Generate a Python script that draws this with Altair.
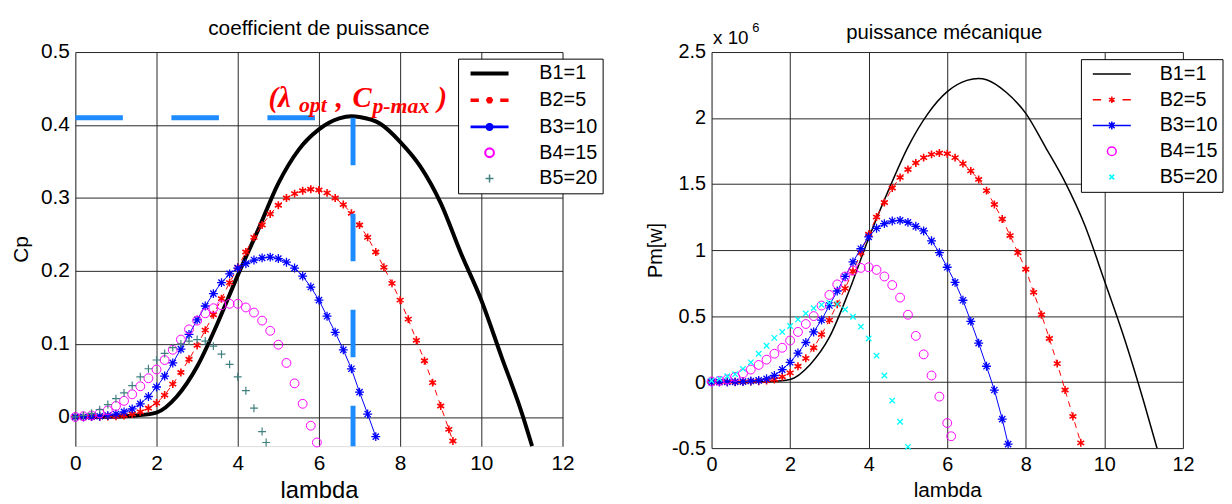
import altair as alt
import pandas as pd

FONT = "Liberation Sans"
SERIES = ["B1=1", "B2=5", "B3=10", "B4=15", "B5=20"]

# ---------------- left panel: coefficient de puissance (Cp) ----------------
cp1_lam = [0, 0.5, 1, 1.5, 2, 2.5, 3, 3.5, 4, 4.5, 5, 5.5, 6, 6.5, 6.8, 7, 7.5, 8, 8.5, 9, 9.5, 10, 10.5, 11, 11.25]
cp1_val = [0, 0, 0.0005, 0.002, 0.006, 0.028, 0.069, 0.128, 0.194, 0.256, 0.320, 0.366, 0.394, 0.409, 0.412,
           0.411, 0.402, 0.377, 0.343, 0.293, 0.224, 0.160, 0.082, 0.005, -0.04]

cp2_lam = [0, 0.2, 0.4, 0.6, 0.8, 1, 1.2, 1.4, 1.6, 1.8, 2, 2.2, 2.4, 2.6, 2.8, 3, 3.2, 3.4, 3.6, 3.8, 4, 4.2,
           4.4, 4.6, 4.8, 5, 5.2, 5.4, 5.6, 5.8, 6, 6.2, 6.4, 6.6, 6.8, 7, 7.2, 7.4, 7.6, 7.8, 8, 8.2, 8.4, 8.6,
           8.8, 9, 9.2, 9.3]
cp2_val = [0, 0, 0, 0.0002, 0.0005, 0.001, 0.002, 0.004, 0.007, 0.012, 0.019, 0.030, 0.045, 0.061, 0.079,
           0.098, 0.119, 0.140, 0.162, 0.184, 0.205, 0.226, 0.246, 0.263, 0.278, 0.290, 0.300, 0.306, 0.310,
           0.312, 0.311, 0.307, 0.300, 0.291, 0.279, 0.263, 0.246, 0.226, 0.205, 0.183, 0.160, 0.134, 0.105,
           0.077, 0.047, 0.015, -0.017, -0.033]

cp3_lam = [0, 0.2, 0.4, 0.6, 0.8, 1, 1.2, 1.4, 1.6, 1.8, 2, 2.2, 2.4, 2.6, 2.8, 3, 3.2, 3.4, 3.6, 3.8, 4, 4.2,
           4.4, 4.6, 4.8, 5, 5.2, 5.4, 5.6, 5.8, 6, 6.2, 6.4, 6.6, 6.8, 7, 7.2, 7.4]
cp3_val = [0, 0, 0.0005, 0.001, 0.002, 0.004, 0.007, 0.011, 0.018, 0.028, 0.041, 0.056, 0.074, 0.093, 0.113,
           0.133, 0.152, 0.169, 0.184, 0.196, 0.204, 0.210, 0.215, 0.218, 0.219, 0.217, 0.212, 0.204, 0.193,
           0.178, 0.160, 0.138, 0.116, 0.092, 0.066, 0.034, 0.004, -0.027]

cp4_lam = [0, 0.2, 0.4, 0.6, 0.8, 1, 1.2, 1.4, 1.6, 1.8, 2, 2.2, 2.4, 2.6, 2.8, 3, 3.2, 3.4, 3.6, 3.8, 4, 4.2,
           4.4, 4.6, 4.8, 5, 5.2, 5.4, 5.6, 5.8, 5.95]
cp4_val = [0, 0.001, 0.002, 0.005, 0.009, 0.015, 0.022, 0.031, 0.042, 0.053, 0.065, 0.078, 0.092, 0.106, 0.120,
           0.132, 0.142, 0.149, 0.153, 0.155, 0.155, 0.150, 0.143, 0.132, 0.118, 0.099, 0.074, 0.046, 0.018,
           -0.012, -0.035]

cp5_lam = [0, 0.2, 0.4, 0.6, 0.8, 1, 1.2, 1.4, 1.6, 1.8, 2, 2.2, 2.4, 2.6, 2.8, 3, 3.2, 3.4, 3.6, 3.8, 4, 4.2,
           4.4, 4.6, 4.7]
cp5_val = [0, 0.002, 0.005, 0.010, 0.017, 0.025, 0.033, 0.043, 0.055, 0.066, 0.078, 0.087, 0.095, 0.100, 0.104,
           0.106, 0.104, 0.097, 0.086, 0.072, 0.055, 0.036, 0.012, -0.020, -0.035]

LAMBDA_OPT = 6.84
CP_MAX = 0.41

# ---------------- right panel: puissance mecanique (Pm, x 10^6 W) ----------------
pm1_lam = [0, 0.5, 1, 1.5, 2, 2.5, 3, 3.5, 4, 4.5, 5, 5.5, 6, 6.5, 6.8, 7, 7.5, 8, 8.5, 9, 9.5, 10, 10.5, 11, 11.34]
pm1_val = [0, 0, 0.002, 0.005, 0.02, 0.13, 0.34, 0.69, 1.09, 1.45, 1.78, 2.03, 2.20, 2.285, 2.30, 2.29, 2.195,
           2.035, 1.78, 1.515, 1.19, 0.77, 0.34, -0.145, -0.5]

pm2_lam = [0, 0.2, 0.4, 0.6, 0.8, 1, 1.2, 1.4, 1.6, 1.8, 2, 2.2, 2.4, 2.6, 2.8, 3, 3.2, 3.4, 3.6, 3.8, 4, 4.2,
           4.4, 4.6, 4.8, 5, 5.2, 5.4, 5.6, 5.8, 6, 6.2, 6.4, 6.6, 6.8, 7, 7.2, 7.4, 7.6, 7.8, 8, 8.2, 8.4, 8.6,
           8.8, 9, 9.2, 9.4]
pm2_val = [0, 0, 0, 0.001, 0.002, 0.004, 0.007, 0.012, 0.02, 0.04, 0.07, 0.12, 0.18, 0.26, 0.36, 0.47, 0.59,
           0.71, 0.84, 0.98, 1.12, 1.25, 1.36, 1.47, 1.55, 1.61, 1.66, 1.70, 1.725, 1.735, 1.73, 1.70, 1.655,
           1.60, 1.535, 1.45, 1.345, 1.235, 1.11, 0.98, 0.855, 0.68, 0.51, 0.33, 0.14, -0.06, -0.26, -0.46]

pm3_lam = [0, 0.2, 0.4, 0.6, 0.8, 1, 1.2, 1.4, 1.6, 1.8, 2, 2.2, 2.4, 2.6, 2.8, 3, 3.2, 3.4, 3.6, 3.8, 4, 4.2,
           4.4, 4.6, 4.8, 5, 5.2, 5.4, 5.6, 5.8, 6, 6.2, 6.4, 6.6, 6.8, 7, 7.2, 7.4, 7.55]
pm3_val = [0, 0, 0.001, 0.002, 0.004, 0.008, 0.013, 0.025, 0.05, 0.095, 0.15, 0.22, 0.30, 0.38, 0.47, 0.58,
           0.69, 0.80, 0.91, 1.01, 1.10, 1.165, 1.20, 1.22, 1.225, 1.21, 1.18, 1.145, 1.07, 0.98, 0.87, 0.755,
           0.62, 0.46, 0.295, 0.12, -0.06, -0.28, -0.47]

pm4_lam = [0, 0.2, 0.4, 0.6, 0.8, 1, 1.2, 1.4, 1.6, 1.8, 2, 2.2, 2.4, 2.6, 2.8, 3, 3.2, 3.4, 3.6, 3.8, 4, 4.2,
           4.4, 4.6, 4.8, 5, 5.2, 5.4, 5.6, 5.8, 6, 6.1]
pm4_val = [0.005, 0.01, 0.02, 0.04, 0.065, 0.095, 0.13, 0.17, 0.215, 0.26, 0.315, 0.38, 0.44, 0.50, 0.58, 0.66,
           0.74, 0.80, 0.845, 0.865, 0.87, 0.85, 0.80, 0.735, 0.64, 0.51, 0.35, 0.21, 0.05, -0.11, -0.31, -0.41]

pm5_lam = [0, 0.2, 0.4, 0.6, 0.8, 1, 1.2, 1.4, 1.6, 1.8, 2, 2.2, 2.4, 2.6, 2.8, 3, 3.2, 3.4, 3.6, 3.8, 4, 4.2,
           4.4, 4.6, 4.8, 5]
pm5_val = [0.01, 0.025, 0.045, 0.06, 0.10, 0.15, 0.215, 0.275, 0.335, 0.38, 0.425, 0.475, 0.52, 0.56, 0.585,
           0.60, 0.59, 0.55, 0.495, 0.42, 0.33, 0.20, 0.05, -0.14, -0.30, -0.49]


def frame(lams, vals, name):
    if len(lams) != len(vals):
        raise ValueError(f"length mismatch for {name}: {len(lams)} vs {len(vals)}")
    return pd.DataFrame({"lam": lams, "val": vals, "series": name})


# marker / legend symbol paths (unit coordinates)
AST6 = "M-0.87,-0.5L0.87,0.5M-0.87,0.5L0.87,-0.5M0,-1V1"
AST8 = "M-1,0H1M0,-1V1M-0.7,-0.7L0.7,0.7M-0.7,0.7L0.7,-0.7"
PLUS = "M-1,0H1M0,-1V1"
XMARK = "M-1,-1L1,1M-1,1L1,-1"

LG_B1 = "M-2.4,0H2.4"
LG_B2 = "M-2.4,0H-1.35M1.35,0H2.4M-0.36,-0.2L0.36,0.2M-0.36,0.2L0.36,-0.2M0,-0.42V0.42"
LG_B3 = "M-2.4,0H2.4M-0.36,-0.36L0.36,0.36M-0.36,0.36L0.36,-0.36M0,-0.5V0.5"
LG_B4 = "M0.55,0A0.55,0.55,0,1,1,-0.55,0A0.55,0.55,0,1,1,0.55,0Z"
LG_B5L = "M-0.5,0H0.5M0,-0.5V0.5"
LG_B5R = "M-0.3,-0.3L0.3,0.3M-0.3,0.3L0.3,-0.3"

RED, BLUE, MAG, TEAL, CYAN = "#ff0000", "#0000ff", "#ff00ff", "#408080", "#00ffff"
DASHBLUE = "#1e8cff"

W_L, H_L = 492, 398
W_R, H_R = 476, 400


def axis(values, title, label_size, title_size, label_pad, title_pad, label_expr=None):
    kw = dict(values=values, title=title, format="~g", grid=True, ticks=False, domain=False,
              labelFlush=False, labelOverlap=False, labelFont=FONT, labelFontSize=label_size,
              labelColor="black", labelPadding=label_pad, titleFont=FONT, titleFontSize=title_size,
              titleFontWeight="normal", titleColor="black", titlePadding=title_pad,
              gridColor="#262626", gridWidth=1)
    if label_expr:
        kw["labelExpr"] = label_expr
    return alt.Axis(**kw)


def legend(x, y, sym_off, lab_off):
    return alt.Legend(title=None, orient="none", legendX=x, legendY=y, strokeColor="black",
                      fillColor="white", padding=5, rowPadding=6, symbolSize=256, symbolOpacity=1,
                      symbolOffset=sym_off, labelOffset=lab_off, labelAlign="left",
                      labelBaseline="middle", labelFont=FONT, labelFontSize=20,
                      labelColor="black", labelLimit=200)


def points(df, X, Y, shape, size, color, sw):
    return alt.Chart(df).mark_point(shape=shape, size=size, filled=False, color=color,
                                    strokeWidth=sw, opacity=1).encode(x=X, y=Y)


def line(df, X, Y, color, sw, dash=None, interp="linear"):
    kw = dict(color=color, strokeWidth=sw, interpolate=interp)
    if dash:
        kw["strokeDash"] = dash
    return alt.Chart(df).mark_line(**kw).encode(x=X, y=Y)


def legend_layer(dfs, X, Y, colors, shapes, widths, lg):
    allf = pd.concat(dfs, ignore_index=True)
    return alt.Chart(allf).transform_filter("false").mark_point(filled=False, opacity=1, size=256).encode(
        x=X, y=Y,
        color=alt.Color("series:N", scale=alt.Scale(domain=SERIES, range=colors), legend=lg),
        shape=alt.Shape("series:N", scale=alt.Scale(domain=SERIES, range=shapes), legend=lg),
        strokeWidth=alt.StrokeWidth("series:N", scale=alt.Scale(domain=SERIES, range=widths), legend=lg),
    )


one = pd.DataFrame({"k": [0]})


def label_text(text, x, y, size, align="center", angle=0, font=FONT):
    return alt.Chart(one).mark_text(text=text, font=font, fontSize=size, color="black", align=align,
                                    baseline="alphabetic", angle=angle).encode(x=alt.value(x), y=alt.value(y))


# ---------------- left chart ----------------
xs = alt.Scale(domain=[0, 12], nice=False, zero=False)
ysl = alt.Scale(domain=[-0.04, 0.5], nice=False, zero=False)
XL = alt.X("lam:Q", scale=xs, axis=axis([0, 2, 4, 6, 8, 10, 12], "lambda", 21, 24, 7, 5))
YL = alt.Y("val:Q", scale=ysl, axis=axis([0, 0.1, 0.2, 0.3, 0.4, 0.5], "Cp", 21, 21, 6, 9))

d1, d2, d3, d4, d5 = (frame(cp1_lam, cp1_val, SERIES[0]), frame(cp2_lam, cp2_val, SERIES[1]),
                      frame(cp3_lam, cp3_val, SERIES[2]), frame(cp4_lam, cp4_val, SERIES[3]),
                      frame(cp5_lam, cp5_val, SERIES[4]))

opt = pd.DataFrame({"lam": [LAMBDA_OPT], "val": [CP_MAX], "lam0": [0.0], "vmin": [-0.04]})
hrule = alt.Chart(opt).mark_rule(color=DASHBLUE, strokeWidth=5, strokeDash=[48, 49]).encode(
    x=alt.X("lam0:Q", scale=xs, axis=axis([0, 2, 4, 6, 8, 10, 12], "lambda", 21, 24, 7, 5)),
    x2="lam:Q", y=YL)
vrule = alt.Chart(opt).mark_rule(color=DASHBLUE, strokeWidth=5, strokeDash=[48, 49]).encode(
    x=XL, y=YL, y2="vmin:Q")

ann_big = pd.DataFrame({"lam": [4.758, 6.412, 6.825, 8.923], "val": [0.425, 0.425, 0.425, 0.425],
                        "txt": ["(λ", ",", "C", ")"]})
ann_sub = pd.DataFrame({"lam": [5.507, 7.318], "val": [0.4177, 0.417], "txt": ["opt", "p-max"]})
t_big = alt.Chart(ann_big).mark_text(font="Liberation Serif", fontSize=29, fontStyle="italic",
                                     fontWeight="bold", color=RED, align="left",
                                     baseline="alphabetic").encode(x=XL, y=YL, text="txt:N")
t_sub = alt.Chart(ann_sub).mark_text(font="Liberation Serif", fontSize=22, fontStyle="italic",
                                     fontWeight="bold", color=RED, align="left",
                                     baseline="alphabetic").encode(x=XL, y=YL, text="txt:N")

left = alt.layer(
    line(d1, XL, YL, "black", 4, interp="monotone"),
    line(d2, XL, YL, RED, 1, dash=[6, 5]),
    points(d2, XL, YL, AST6, 64, RED, 1.6),
    line(d3, XL, YL, BLUE, 1),
    points(d3, XL, YL, AST8, 81, BLUE, 1.3),
    points(d4, XL, YL, "circle", 80, MAG, 1),
    points(d5, XL, YL, PLUS, 64, TEAL, 1.2),
    hrule, vrule, t_big, t_sub,
    label_text("coefficient de puissance", W_L / 2, -17, 21),
    legend_layer([d1, d2, d3, d4, d5], XL, YL, ["black", RED, BLUE, MAG, TEAL],
                 [LG_B1, LG_B2, LG_B3, LG_B4, LG_B5L], [4, 1.5, 1.2, 1.2, 1.2],
                 legend(386.5, 6.7, 16.8, 40.3)),
).properties(width=W_L, height=H_L)

# ---------------- right chart ----------------
ysr = alt.Scale(domain=[-0.5, 2.5], nice=False, zero=False)
XR = alt.X("lam:Q", scale=xs, axis=axis([0, 2, 4, 6, 8, 10, 12], "lambda", 20, 21, 7, 5))
YR = alt.Y("val:Q", scale=ysr, axis=axis([-0.5, 0, 0.5, 1, 1.5, 2, 2.5], "Pm[w]", 20, 20, 6, 6,
                                         label_expr="replace(datum.label, '\u2212', '-')"))

e1, e2, e3, e4, e5 = (frame(pm1_lam, pm1_val, SERIES[0]), frame(pm2_lam, pm2_val, SERIES[1]),
                      frame(pm3_lam, pm3_val, SERIES[2]), frame(pm4_lam, pm4_val, SERIES[3]),
                      frame(pm5_lam, pm5_val, SERIES[4]))

right = alt.layer(
    line(e1, XR, YR, "black", 1.5, interp="monotone"),
    line(e2, XR, YR, RED, 1, dash=[6, 5]),
    points(e2, XR, YR, AST6, 64, RED, 1.6),
    line(e3, XR, YR, BLUE, 1),
    points(e3, XR, YR, AST8, 81, BLUE, 1.3),
    points(e4, XR, YR, "circle", 80, MAG, 1),
    points(e5, XR, YR, XMARK, 30, CYAN, 1.3),
    label_text("puissance mécanique", W_R / 2 - 3, -13, 20.5),
    label_text("x 10", 1.5, -7.6, 19, align="left"),
    label_text("6", 41, -20.5, 13, align="left"),
    legend_layer([e1, e2, e3, e4, e5], XR, YR, ["black", RED, BLUE, MAG, CYAN],
                 [LG_B1, LG_B2, LG_B3, LG_B4, LG_B5R], [1.5, 1.5, 1.2, 1.2, 1.2],
                 legend(373, 7.2, 16.2, 38.3)),
).properties(width=W_R, height=H_R)

chart = alt.hconcat(left, right, spacing=150.5, bounds="flush").resolve_scale(
    color="independent", shape="independent", strokeWidth="independent"
).properties(padding={"left": 2, "top": 7, "right": 0, "bottom": 0}).configure_view(
    stroke="black", strokeWidth=2
).configure(background="white")

chart.save("out.html", embed_options={"renderer": "svg", "actions": False})
